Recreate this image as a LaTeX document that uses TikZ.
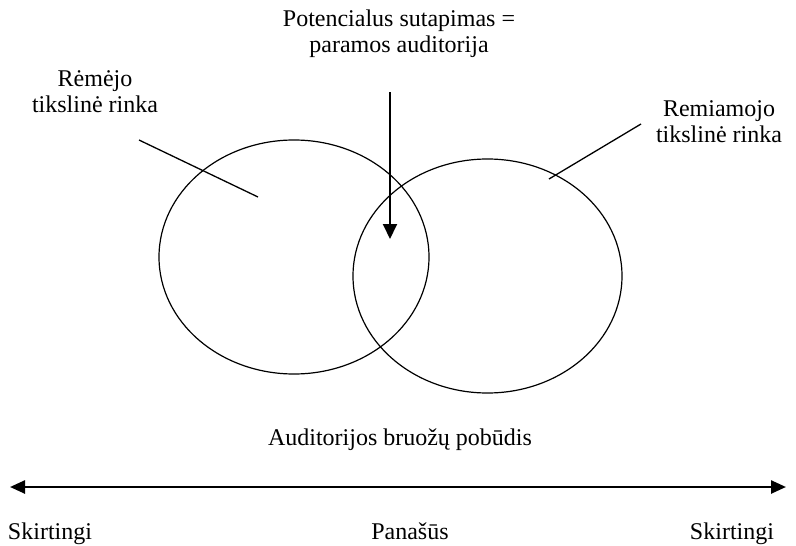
\documentclass[tikz,border=0pt]{standalone}
\usepackage{fontspec}
\setmainfont{Liberation Serif}
\usetikzlibrary{arrows.meta,shapes.geometric}
\tikzset{
  market/.style={ellipse, draw=black, line width=1.2pt, inner sep=0pt},
  caption/.style={font=\fontsize{24}{26}\selectfont, align=center, inner sep=0pt},
  pointer/.style={line width=1.3pt},
  flow/.style={-{Triangle[length=15pt,width=14pt]}, line width=2pt},
  axisline/.style={{Triangle[length=15pt,width=13pt]}-{Triangle[length=15pt,width=13pt]}, line width=2.5pt}
}
\begin{document}
\begin{tikzpicture}[x=1pt,y=-1pt]
  \useasboundingbox (0,0) rectangle (796,546);
  % --- the two target markets
  \node[market, minimum width=270pt, minimum height=234pt] (sponsor) at (294,257) {};
  \node[market, minimum width=269pt, minimum height=234pt] (sponsee) at (487.5,276) {};

  % --- labels
  \node[caption] (sponsorlbl) at (95,92) {Rėmėjo\\tikslinė rinka};
  \node[caption] (sponseelbl) at (719,122) {Remiamojo\\tikslinė rinka};
  \node[caption] (overlaplbl) at (399,34) {Potencialus sutapimas =\\paramos auditorija};
  \node[caption] (axislbl)    at (400,440) {Auditorijos bruožų pobūdis};

  % --- pointers into the markets
  \coordinate (sponsorin) at (258,197);
  \coordinate (sponseein) at (549,179);
  \coordinate (arrowtop)  at (390,92);
  \coordinate (arrowtip)  at (390,239);
  \draw[pointer] (139,140) -- (sponsorin);
  \draw[pointer] (641,124) -- (sponseein);
  \draw[flow] (arrowtop) -- (arrowtip);

  % --- axis
  \node[caption, anchor=base] (leftend)  at (50,539)  {Skirtingi};
  \node[caption, anchor=base] (middle)   at (410,539) {Panašūs};
  \node[caption, anchor=base] (rightend) at (732,539) {Skirtingi};
  \coordinate (axisL) at (10,487);
  \coordinate (axisR) at (786,487);
  \draw[axisline] (axisL) -- (axisR);
\end{tikzpicture}
\end{document}
